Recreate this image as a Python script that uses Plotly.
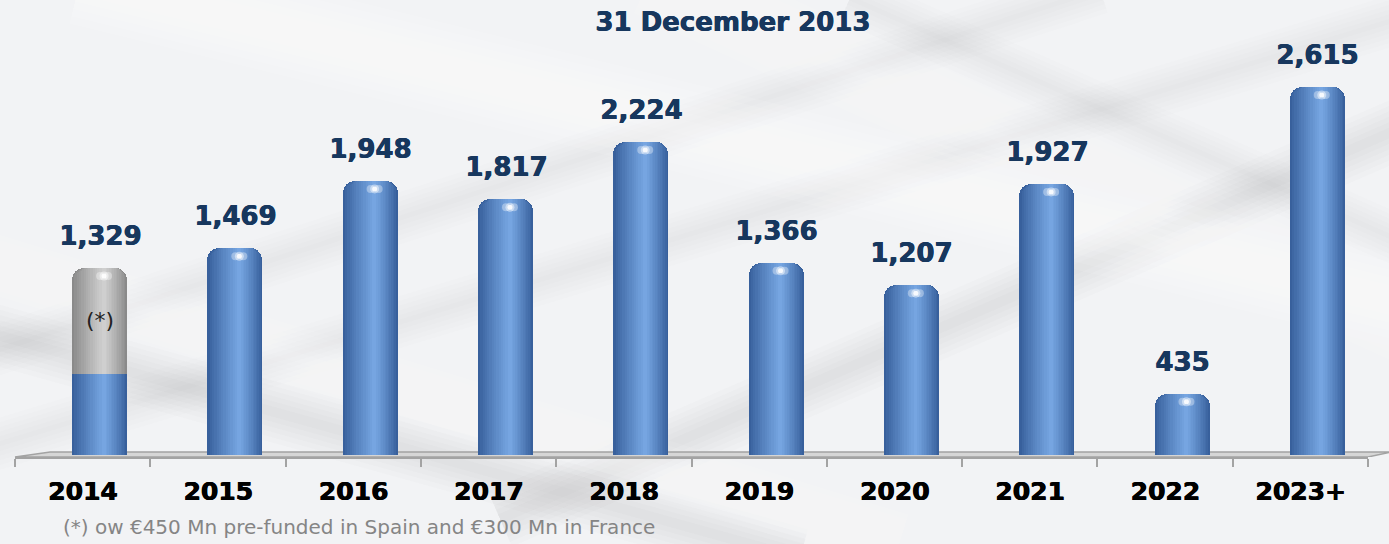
import plotly.graph_objects as go

# Debt maturities (EUR Mn) as of 31 December 2013
years = ["2014", "2015", "2016", "2017", "2018", "2019", "2020", "2021", "2022", "2023+"]
maturities = [1329, 1469, 1948, 1817, 2224, 1366, 1207, 1927, 435, 2615]
prefunded_spain = 450
prefunded_france = 300
prefunded = [prefunded_spain + prefunded_france] + [0] * 9

idx = list(range(len(years)))

# geometry of the cylinders (category units / pixels)
BAR_W = 0.4065
SHIFT = 0.1256
CAP_R = 12
BAR_PX = 55
N_LAYERS = 14
PEAK = 0.58

BLUE_EDGE = (56, 96, 156)
BLUE_PEAK = (122, 170, 230)
GRAY_EDGE = (138, 138, 138)
GRAY_PEAK = (212, 212, 212)
NAVY = "#17375E"
FONT = "DejaVu Sans"

PLOT_L, PLOT_R, PLOT_B = 15, 1368, 457


def mix(c1, c2, t):
    return "rgb(%d,%d,%d)" % tuple(round(a + (b - a) * t) for a, b in zip(c1, c2))


def heavy(color):
    # thicken the bold face a little
    return "0.8px 0 0 %s, 0.4px 0.3px 0 %s" % (color, color)


def to_paper(px, py):
    return (px - PLOT_L) / (PLOT_R - PLOT_L), (PLOT_B - py) / PLOT_B


fig = go.Figure()

# soft diagonal streaks in the backdrop (stacked strokes give a blurred edge);
# every streak runs past the page edges so no stroke end is visible
streaks = [
    ((-100, 308), (800, 558), (150, 150, 160), 0.030, 60),
    ((-100, 474), (1500, -12), (150, 150, 160), 0.025, 50),
    ((-100, 382), (1100, -11), (150, 150, 160), 0.020, 50),
    ((500, 519), (1500, 85), (150, 150, 160), 0.030, 60),
    ((850, -2), (1500, 285), (150, 150, 160), 0.020, 50),
    ((80, -20), (1500, 327), (255, 255, 255), 0.10, 90),
    ((650, -23), (1500, 367), (255, 255, 255), 0.08, 80),
    ((-100, 235), (900, 543), (255, 255, 255), 0.08, 60),
]
for p0, p1, rgb, alpha, wmax in streaks:
    x0, y0 = to_paper(*p0)
    x1, y1 = to_paper(*p1)
    for w in range(wmax, 0, -wmax // 6):
        fig.add_shape(type="line", xref="paper", yref="paper", x0=x0, y0=y0, x1=x1, y1=y1,
                      line=dict(color="rgba(%d,%d,%d,%s)" % (rgb + (alpha,)), width=w),
                      layer="below")


def add_cylinder(xs, ys, edge, peak, rounded):
    """Nested bars lighten towards a highlight line to give a cylinder look."""
    for k in range(N_LAYERS):
        t = k / N_LAYERS
        a = PEAK * t
        b = 1 - (1 - PEAK) * t
        r = max(0, CAP_R - min(a, 1 - b) * BAR_PX) if rounded else 0
        fig.add_trace(go.Bar(
            x=xs, y=ys,
            width=(b - a) * BAR_W,
            offset=SHIFT - BAR_W / 2 + a * BAR_W,
            marker=dict(color=mix(edge, peak, t ** 0.9), line_width=0, cornerradius=r),
            hoverinfo="skip", showlegend=False,
        ))


# regular maturities
add_cylinder(idx[1:], maturities[1:], BLUE_EDGE, BLUE_PEAK, True)
# 2014: pre-funded part in gray on top of the remaining blue part
add_cylinder(idx[:1], maturities[:1], GRAY_EDGE, GRAY_PEAK, True)
add_cylinder(idx[:1], [maturities[0] - prefunded[0]], BLUE_EDGE, BLUE_PEAK, False)

# top highlights: a short horizontal glint near each cap
Y_MIN, Y_MAX = -14.2, 3234
PX_PER_UNIT = PLOT_B / (Y_MAX - Y_MIN)
UNIT_PER_PX_X = 1 / 135.3
hy = [m - 8 / PX_PER_UNIT for m in maturities]
for dx, size, alpha in [(-4, 8, 0.35), (4, 8, 0.35), (0, 9, 0.45), (0, 5, 0.85)]:
    hx = [i + SHIFT + (PEAK - 0.5) * BAR_W + dx * UNIT_PER_PX_X for i in idx]
    fig.add_trace(go.Scatter(x=hx, y=hy, mode="markers", hoverinfo="skip", showlegend=False,
                             marker=dict(size=size, color="rgba(255,255,255,%s)" % alpha,
                                         line_width=0)))

# value labels
for i, m in zip(idx, maturities):
    fig.add_annotation(x=i + SHIFT, y=m, text="<b>{:,}</b>".format(m), showarrow=False,
                       yanchor="middle", yshift=32,
                       font=dict(family=FONT, size=26, color=NAVY, shadow=heavy(NAVY)))

fig.add_annotation(x=SHIFT, y=(maturities[0] + (maturities[0] - prefunded[0])) / 2,
                   text="(*)", showarrow=False, yanchor="middle",
                   font=dict(family=FONT, size=22, color="#222222"))

# floor
fig.add_shape(type="path", xref="paper", yref="y",
              path="M 0 -14 L 1 -14 L 1.017 21 L 0.026 21 Z",
              fillcolor="#D6D6D6", line=dict(color="#A3A3A3", width=1.5), layer="below")

fig.add_annotation(xref="paper", yref="paper", x=0.53, y=0.952, text="<b>31 December 2013</b>",
                   showarrow=False, xanchor="center", yanchor="middle",
                   font=dict(family=FONT, size=26, color=NAVY, shadow=heavy(NAVY)))
fig.add_annotation(xref="paper", yref="paper", x=0.034, y=-0.153, xanchor="left", yanchor="middle",
                   text="(*) ow €450 Mn pre-funded in Spain and €300 Mn in France", showarrow=False,
                   font=dict(family=FONT, size=20, color="#858585"))

fig.update_layout(
    width=1389, height=544,
    margin=dict(l=PLOT_L, r=1389 - PLOT_R, t=0, b=544 - PLOT_B),
    barmode="overlay",
    bargap=0,
    paper_bgcolor="#F2F3F5",
    plot_bgcolor="rgba(0,0,0,0)",
    showlegend=False,
    xaxis=dict(
        range=[-0.5, 9.5], tickvals=idx, ticktext=["<b>%s</b>" % y for y in years],
        ticks="", showgrid=False, zeroline=False, showline=True,
        linecolor="#A3A3A3", linewidth=2, fixedrange=True,
        tickfont=dict(family=FONT, size=25, color="#000000", shadow=heavy("#000000")),
        ticklabelstandoff=11,
        minor=dict(tickvals=[i - 0.5 for i in range(len(years) + 1)], ticks="outside",
                   ticklen=8, tickwidth=2, tickcolor="#A3A3A3", showgrid=False),
    ),
    yaxis=dict(range=[Y_MIN, Y_MAX], visible=False, fixedrange=True),
)

fig.write_html("out.html")
